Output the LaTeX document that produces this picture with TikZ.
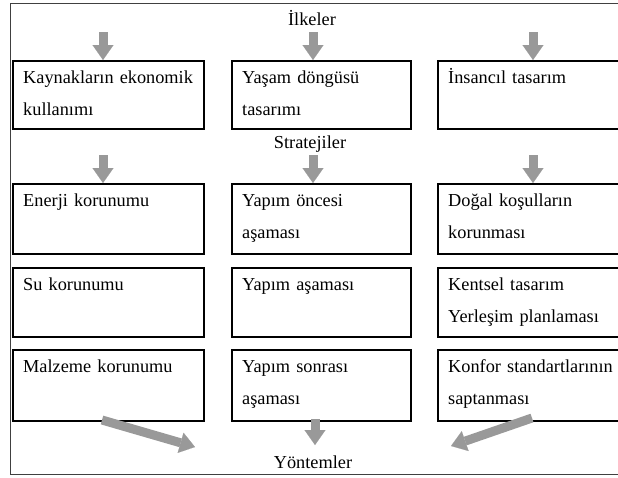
\documentclass[tikz,border=0pt]{standalone}
\usepackage{fontspec}
\setmainfont{Liberation Serif}
\usetikzlibrary{arrows.meta}

\tikzset{
  kutu/.style={draw, line width=1.6pt, inner sep=0pt, anchor=north west,
               minimum width=#1, minimum height=70pt},
  yazi/.style={anchor=north west, inner sep=0pt, align=left, text width=190pt,
               font=\fontsize{18.3}{32}\selectfont,
               execute at begin node={\noindent\rule{0pt}{17pt}}},
  baslik/.style={anchor=base, inner sep=0pt, font=\fontsize{18.3}{22}\selectfont},
  ok/.style={draw=black!40, line width=9pt,
             -{Triangle[width=21pt,length=15pt,line width=0.1pt]}},
}

\begin{document}
\begin{tikzpicture}[x=1pt, y=-1pt]
		\useasboundingbox (0,0) rectangle (618,477);
		\clip (0,0) rectangle (618,477);
		\draw[black!75, line width=0.9pt] (10,3) rectangle (660,474);

		% basliklar
		\node[baslik] (ilkeler) at (312,25) {İlkeler};
		\node[baslik] (stratejiler) at (310,148) {Stratejiler};
		\node[baslik] (yontemler) at (313,468) {Yöntemler};

		% ilkeler
		\node[kutu=191pt, minimum height=68pt] (ekonomi) at (12,60) {};
		\node[kutu=179pt, minimum height=68pt] (yasam) at (231,60) {};
		\node[kutu=215pt, minimum height=68pt] (insan) at (437,60) {};

		% stratejiler
		\node[kutu=191pt] (enerji) at (12,183) {};
		\node[kutu=179pt] (oncesi) at (231,183) {};
		\node[kutu=215pt] (dogal) at (437,183) {};

		\node[kutu=191pt, minimum height=69pt] (su) at (12,267) {};
		\node[kutu=179pt, minimum height=69pt] (asama) at (231,267) {};
		\node[kutu=215pt, minimum height=69pt] (kentsel) at (437,267) {};

		\node[kutu=191pt, minimum height=71pt] (malzeme) at (12,349) {};
		\node[kutu=179pt, minimum height=71pt] (sonrasi) at (231,349) {};
		\node[kutu=215pt, minimum height=71pt] (konfor) at (437,349) {};

		% kutu yazilari
		\node[yazi] (tekonomi) at ([shift={(11,6.5)}]ekonomi.north west) {Kaynakların ekonomik\\kullanımı};
		\node[yazi] (tyasam) at ([shift={(11,6.5)}]yasam.north west) {Yaşam döngüsü\\tasarımı};
		\node[yazi] (tinsan) at ([shift={(11,6.5)}]insan.north west) {İnsancıl tasarım};
		\node[yazi] (tenerji) at ([shift={(11,6.5)}]enerji.north west) {Enerji korunumu};
		\node[yazi] (toncesi) at ([shift={(11,6.5)}]oncesi.north west) {Yapım öncesi\\aşaması};
		\node[yazi] (tdogal) at ([shift={(11,6.5)}]dogal.north west) {Doğal koşulların\\korunması};
		\node[yazi] (tsu) at ([shift={(11,6.5)}]su.north west) {Su korunumu};
		\node[yazi] (tasama) at ([shift={(11,6.5)}]asama.north west) {Yapım aşaması};
		\node[yazi] (tkentsel) at ([shift={(11,6.5)}]kentsel.north west) {Kentsel tasarım\\Yerleşim planlaması};
		\node[yazi] (tmalzeme) at ([shift={(11,6.5)}]malzeme.north west) {Malzeme korunumu};
		\node[yazi] (tsonrasi) at ([shift={(11,6.5)}]sonrasi.north west) {Yapım sonrası\\aşaması};
		\node[yazi] (tkonfor) at ([shift={(11,6.5)}]konfor.north west) {Konfor standartlarının\\saptanması};

		% oklar
		\coordinate (u1) at (103,32);
		\coordinate (u2) at (313,32);
		\coordinate (u3) at (533,32);
		\coordinate (m1) at (103,155);
		\coordinate (m2) at (313,155);
		\coordinate (m3) at (533,155);
		\draw[ok] (u1) -- (u1 |- ekonomi.north);
		\draw[ok] (u2) -- (u2 |- yasam.north);
		\draw[ok] (u3) -- (u3 |- insan.north);
		\draw[ok] (m1) -- (m1 |- enerji.north);
		\draw[ok] (m2) -- (m2 |- oncesi.north);
		\draw[ok] (m3) -- (m3 |- dogal.north);

		\coordinate (a1) at (102,420);
		\coordinate (b1) at (195,447);
		\coordinate (a2) at (315,419);
		\coordinate (b2) at (315,445);
		\coordinate (a3) at (532,418);
		\coordinate (b3) at (451,446);
		\draw[ok] (a1) -- (b1);
		\draw[ok] (a2) -- (b2);
		\draw[ok] (a3) -- (b3);
\end{tikzpicture}
\end{document}
